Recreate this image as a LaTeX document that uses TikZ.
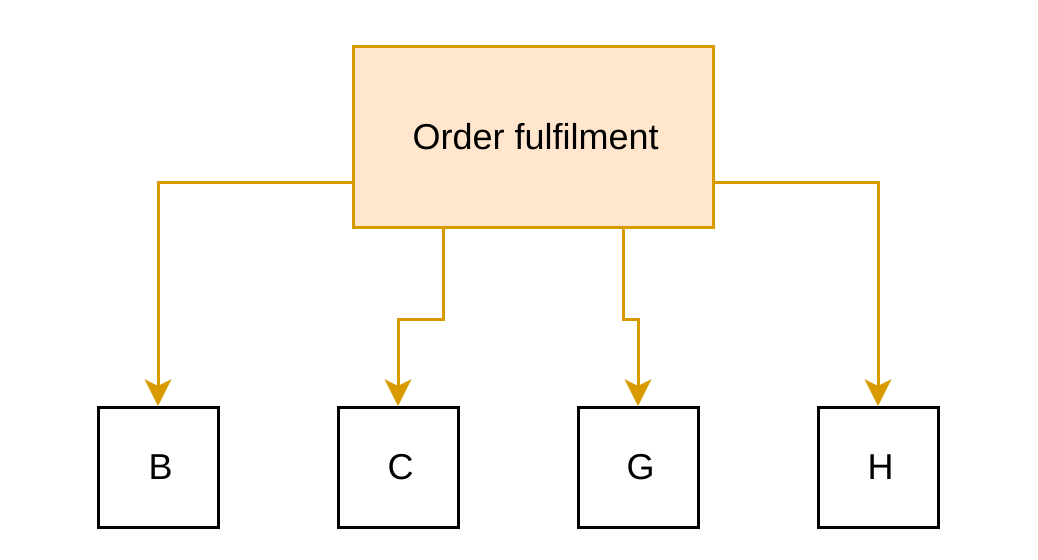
\documentclass[tikz,border=0pt]{standalone}
\usepackage{fontspec}
\setmainfont{Liberation Sans}
\usetikzlibrary{arrows.meta}
\definecolor{ofill}{HTML}{FFE6CC}
\definecolor{ostroke}{HTML}{D79B00}
\tikzset{
  mainbox/.style={draw=ostroke, fill=ofill, line width=2.25pt, minimum width=270pt, minimum height=135pt, inner sep=0pt, font=\fontsize{27}{32}\selectfont},
  leaf/.style={draw=black, line width=2.25pt, minimum width=90pt, minimum height=90pt, inner sep=0pt, font=\fontsize{27}{32}\selectfont},
  conn/.style={draw=ostroke, line width=2.25pt, -{Stealth[length=20pt,width=20pt,inset=5pt]}}
}
\newcommand{\nudge}[1]{\raisebox{-1.5pt}{\hspace{4pt}#1}}
\begin{document}
\begin{tikzpicture}[x=0.75pt,y=-0.75pt]
\useasboundingbox (0,0) rectangle (1038,560);
\node[mainbox] (main) at (533,137) {\nudge{Order fulfilment}};
\node[leaf] (B) at (158,467.5) {\nudge{B}};
\node[leaf] (C) at (398,467.5) {\nudge{C}};
\node[leaf] (G) at (638,467.5) {\nudge{G}};
\node[leaf] (H) at (878,467.5) {\nudge{H}};
\draw[conn] ([yshift=-33.75pt]main.west) -| (B);
\draw[conn] ([xshift=-67.5pt]main.south) -- ++(0,91) -| (C);
\draw[conn] ([xshift=67.5pt]main.south) -- ++(0,91) -| (G);
\draw[conn] ([yshift=-33.75pt]main.east) -| (H);
\end{tikzpicture}
\end{document}
